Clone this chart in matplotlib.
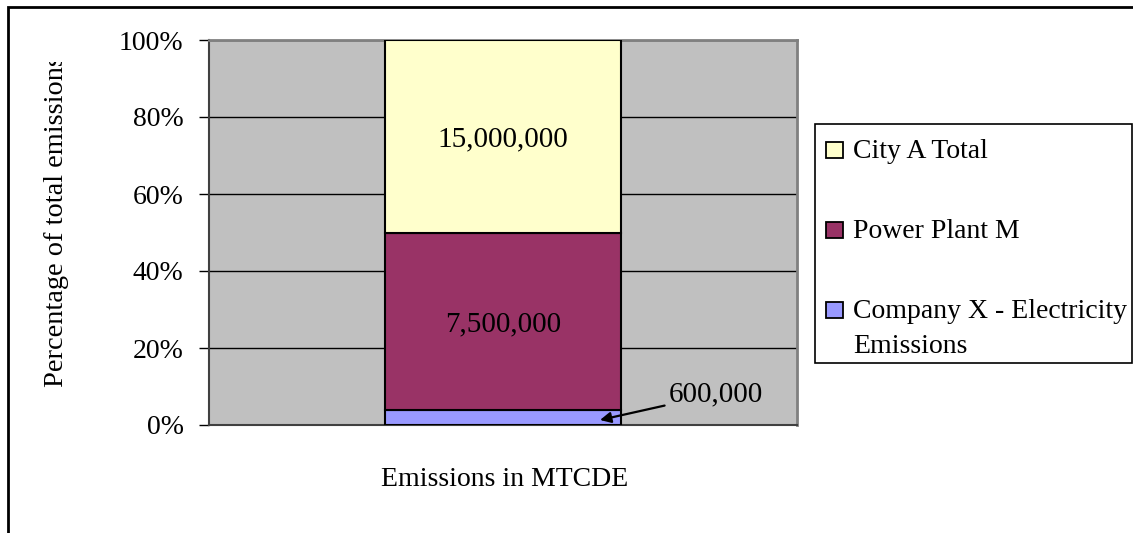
import matplotlib
matplotlib.use("Agg")
import matplotlib.pyplot as plt
from matplotlib.patches import Rectangle
from matplotlib.transforms import Bbox, TransformedBbox
from matplotlib.ticker import FuncFormatter

# Emission totals (MTCDE), each including the ones below it
series_names = ["Company X - Electricity Emissions", "Power Plant M", "City A Total"]
totals = [600000, 7500000, 15000000]
colors = ["#9999FF", "#993366", "#FFFFCC"]
category = ["Emissions in MTCDE"]
y_ticks = [0, 20, 40, 60, 80, 100]

plt.rcParams["font.family"] = ["Liberation Serif", "DejaVu Serif"]
FS = 20

W, H = 1133, 533
fig = plt.figure(figsize=(W / 100, H / 100), dpi=100)

def fx(px):
    return px / W

def fy(py):
    return (H - py) / H

# outer chart frame
fig.patches.append(Rectangle((fx(8), -0.2), 1.5, fy(7) + 0.2, transform=fig.transFigure,
                             fill=False, edgecolor="black", linewidth=2.0, zorder=0))

ax = fig.add_axes([fx(209), fy(425), fx(797) - fx(209), fy(40) - fy(425)])
ax.set_facecolor("#C0C0C0")

# segment heights as share of the overall total
grand = totals[-1]
segments = [totals[0]] + [totals[i] - totals[i - 1] for i in range(1, len(totals))]
shares = [100.0 * s / grand for s in segments]

bottom = 0.0
centers = []
for name, share, col in zip(series_names, shares, colors):
    ax.bar(0, share, width=0.4, bottom=bottom, color=col, edgecolor="black",
           linewidth=1.5, zorder=3, label=name)
    centers.append(bottom + share / 2)
    bottom += share

ax.set_xlim(-0.5, 0.5)
ax.set_ylim(0, 100)
ax.set_yticks(y_ticks)
ax.yaxis.set_major_formatter(FuncFormatter(lambda v, p: f"{v:.0f}%"))
ax.set_xticks([])
ax.tick_params(axis="y", direction="out", length=7.2, width=1.0, pad=11,
               labelsize=FS, colors="black")
ax.grid(axis="y", color="black", linewidth=1.0, zorder=1)
ax.set_axisbelow(True)

for side in ["left", "bottom"]:
    ax.spines[side].set_color("#404040")
    ax.spines[side].set_linewidth(1.5)
for side in ["top", "right"]:
    ax.spines[side].set_color("#808080")
    ax.spines[side].set_linewidth(2.0)

# value labels
ax.text(0, centers[2], f"{totals[2]:,}", ha="center", va="center_baseline", fontsize=21, zorder=5)
ax.text(0, centers[1], f"{totals[1]:,}", ha="center", va="center_baseline", fontsize=21, zorder=5)
ax.annotate(f"{totals[0]:,}", xy=(0.165, 1.3), xytext=(0.362, 8.8),
            ha="center", va="center_baseline", fontsize=21, zorder=5,
            arrowprops=dict(arrowstyle="-|>", color="black", lw=1.6,
                            mutation_scale=16, shrinkA=1, shrinkB=0))

# axis titles
fig.text(fx(505), fy(480), category[0], ha="center", va="center", fontsize=FS)
ylab = fig.text(fx(57), fy(387), "Percentage of total emissions", rotation=90,
                ha="center", va="bottom", fontsize=20.4)
ylab.set_clip_box(TransformedBbox(Bbox([[0, 0], [1, fy(62)]]), fig.transFigure))
ylab.set_clip_on(True)

# legend
fig.patches.append(Rectangle((fx(815), fy(363)), fx(1132) - fx(815), fy(124) - fy(363),
                             transform=fig.transFigure, fill=True, facecolor="white",
                             edgecolor="black", linewidth=1.2, zorder=2))
legend_rows = [
    ("City A Total", colors[2], 150, [158]),
    ("Power Plant M", colors[1], 230, [238]),
    ("Company X - Electricity\nEmissions", colors[0], 310, [318, 353]),
]
for label, col, cy, baselines in legend_rows:
    fig.patches.append(Rectangle((fx(826), fy(cy + 8)), fx(843) - fx(826), fy(cy - 8) - fy(cy + 8),
                                 transform=fig.transFigure, facecolor=col,
                                 edgecolor="black", linewidth=1.3, zorder=3))
    for line, base in zip(label.split("\n"), baselines):
        fig.text(fx(853), fy(base), line, ha="left", va="baseline", fontsize=FS, zorder=4)

fig.savefig("out.png", dpi=100)
